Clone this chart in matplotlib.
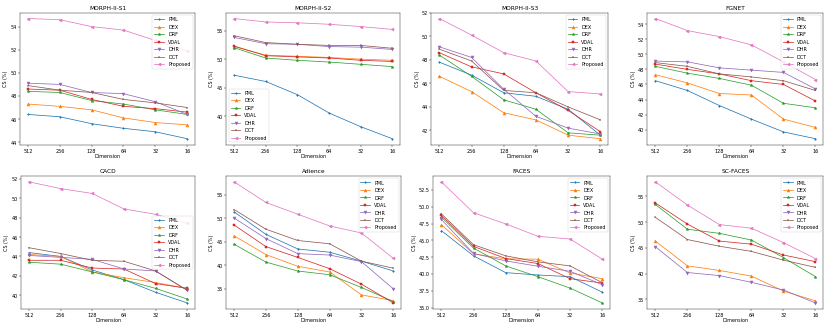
import numpy as np
import matplotlib
matplotlib.use("Agg")
import matplotlib.pyplot as plt

dims = ['512', '256', '128', '64', '32', '16']
methods = ['PML', 'DEX', 'DRF', 'VDAL', 'DHR', 'DCT', 'Proposed']
marks = ['.', '^', '*', 's', 'v', '+', '<']

morph_s1 = [[46.4, 46.2, 45.6, 45.2, 44.9, 44.3],
            [47.3, 47.1, 46.8, 46.1, 45.7, 45.5],
            [48.4, 48.3, 47.6, 47.3, 46.8, 46.4],
            [48.6, 48.5, 47.7, 47.1, 46.9, 46.6],
            [49.1, 49.0, 48.3, 48.2, 47.5, 46.4],
            [48.9, 48.5, 48.3, 47.7, 47.4, 47.0],
            [54.7, 54.6, 54.0, 53.7, 52.8, 51.9]]
morph_s2 = [[47.2, 46.1, 43.8, 40.6, 38.2, 36.1],
            [52.2, 50.7, 50.5, 50.3, 50.0, 49.8],
            [52.0, 50.2, 49.8, 49.5, 49.1, 48.7],
            [52.3, 50.6, 50.4, 50.2, 49.8, 49.6],
            [53.8, 52.7, 52.6, 52.2, 52.1, 51.7],
            [54.1, 52.9, 52.6, 52.4, 52.4, 51.9],
            [57.1, 56.5, 56.35, 56.1, 55.7, 55.2]]
morph_s3 = [[47.8, 46.7, 45.2, 44.9, 43.8, 41.6],
            [46.6, 45.3, 43.5, 42.9, 41.6, 41.3],
            [48.4, 46.6, 44.6, 43.8, 41.8, 41.6],
            [48.6, 47.4, 46.8, 45.2, 43.7, 41.9],
            [49.1, 48.2, 45.5, 43.2, 42.2, 41.7],
            [48.9, 47.9, 45.4, 45.2, 44.0, 42.9],
            [51.5, 50.1, 48.6, 47.9, 45.3, 45.1]]
fgnet = [[46.5, 45.2, 43.2, 41.4, 39.7, 38.8],
         [47.3, 46.2, 44.8, 44.6, 41.4, 40.3],
         [48.4, 47.5, 46.8, 45.9, 43.5, 42.9],
         [48.7, 48.0, 47.4, 46.5, 46.0, 43.8],
         [49.1, 49.0, 48.2, 47.9, 47.6, 45.4],
         [48.9, 48.4, 47.4, 47.0, 46.5, 45.2],
         [54.75, 53.15, 52.35, 51.25, 49.0, 46.65]]
cacd = [[44.4, 44.0, 42.6, 41.6, 40.3, 39.2],
        [44.2, 44.0, 42.4, 41.8, 41.3, 40.7],
        [43.4, 43.2, 42.4, 41.6, 40.7, 39.6],
        [43.6, 43.6, 42.8, 42.7, 41.2, 40.7],
        [44.1, 43.9, 43.7, 42.7, 42.5, 40.5],
        [44.9, 44.3, 43.6, 43.5, 42.5, 40.5],
        [51.7, 51.0, 50.5, 48.9, 48.35, 47.4]]
adience = [[51.4, 46.6, 43.5, 42.8, 40.9, 38.8],
           [46.3, 42.3, 39.8, 38.6, 33.7, 32.5],
           [44.5, 40.7, 38.8, 38.0, 35.3, 32.3],
           [48.6, 44.0, 41.7, 39.3, 36.0, 32.0],
           [50.1, 45.7, 42.5, 42.2, 40.8, 35.0],
           [51.9, 47.7, 45.3, 44.6, 40.9, 39.4],
           [57.8, 53.4, 50.9, 48.4, 46.9, 41.5]]
faces = [[46.45, 42.7, 40.2, 39.85, 39.6, 37.3],
         [47.35, 43.0, 42.25, 42.2, 40.15, 39.3],
         [48.45, 43.85, 41.2, 39.6, 37.9, 35.7],
         [48.7, 44.1, 42.3, 41.55, 39.3, 38.65],
         [48.1, 43.05, 41.95, 41.15, 40.4, 38.4],
         [48.95, 44.35, 42.7, 41.8, 41.2, 38.7],
         [53.7, 49.1, 47.45, 45.6, 45.2, 42.2]]
nan = np.nan
sc_faces = [[nan, nan, nan, nan, nan, nan],
            [46.3, 41.5, 40.6, 39.5, 36.6, 34.7],
            [53.4, 48.6, 47.8, 46.5, 43.1, 39.4],
            [53.7, 49.6, 46.3, 45.7, 43.6, 42.3],
            [45.2, 40.2, 39.6, 38.3, 36.8, 34.3],
            [50.9, 46.6, 45.3, 44.3, 42.6, 41.2],
            [57.8, 53.3, 49.5, 48.8, 46.0, 42.9]]

panels = [('MORPH-II-S1', morph_s1, 'upper right'),
          ('MORPH-II-S2', morph_s2, 'lower left'),
          ('MORPH-II-S3', morph_s3, 'upper right'),
          ('FGNET', fgnet, 'upper right'),
          ('CACD', cacd, 'center right'),
          ('Adience', adience, 'upper right'),
          ('FACES', faces, 'upper right'),
          ('SC-FACES', sc_faces, 'upper right')]

W, H = 830, 328
dpi = 35.5
fig = plt.figure(figsize=((W + 0.5) / dpi, (H + 0.5) / dpi), dpi=dpi)

# axes boxes in pixels: left, right, top, bottom
boxes = [(20, 195, 13, 145), (226, 400, 13, 145), (431, 608, 13, 145), (647, 823, 13, 145),
         (21, 195, 176, 309), (226, 401, 176, 309), (433, 610, 176, 309), (647, 823, 176, 309)]

for (name, data, loc), (l, r, t, b) in zip(panels, boxes):
    ax = fig.add_axes([l / W, 1 - b / H, (r - l) / W, (b - t) / H])
    for i, m in enumerate(methods):
        ax.plot(dims, data[i], marker=marks[i], label=m)
    ax.set_title(name)
    ax.set_xlabel('Dimension', labelpad=1)
    ax.set_ylabel('CS (%)')
    ax.legend(loc=loc)

fig.savefig('out.png', dpi=dpi)
